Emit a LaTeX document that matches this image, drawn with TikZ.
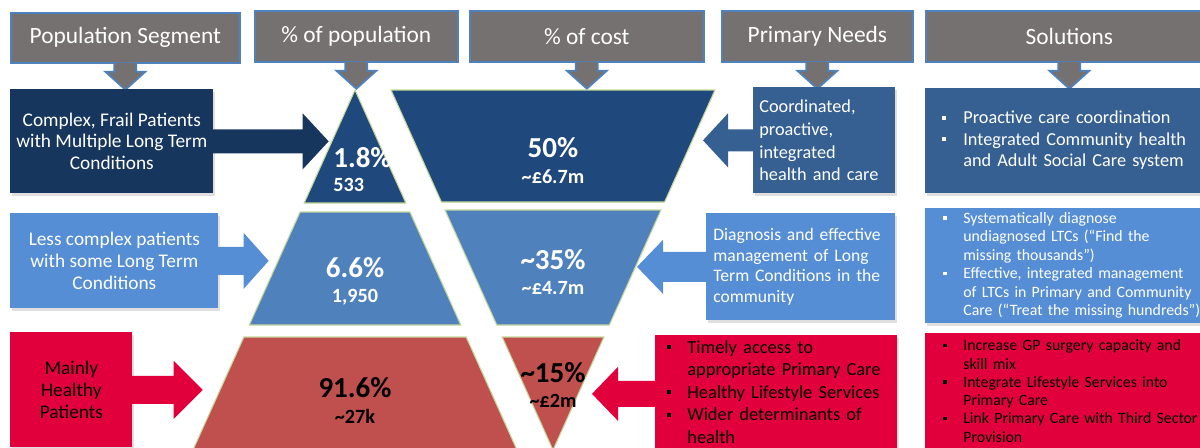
\documentclass[tikz,border=0pt]{standalone}
\usepackage{fontspec}
\setmainfont{Carlito}
\usepackage{tikz}
\usetikzlibrary{shapes.geometric, arrows, positioning, shadows}

\definecolor{hdrgrey}{HTML}{767171}
\definecolor{hdrline}{HTML}{4F81BD}
\definecolor{navydark}{HTML}{17365D}
\definecolor{navymid}{HTML}{1F497D}
\definecolor{bluemid}{HTML}{366092}
\definecolor{bluelight}{HTML}{558ED5}
\definecolor{bluetrap}{HTML}{4F81BD}
\definecolor{crimson}{HTML}{E1003C}
\definecolor{redtrap}{HTML}{C0504D}
\definecolor{trapline}{HTML}{C4D79B}

% bullet line: small square, then the lines of the item
\newcommand{\bul}[2][0.4cm]{\noindent\makebox[#1][l]{\rule[0.22em]{0.22em}{0.22em}}\begin{tabular}[t]{@{}l@{}}#2\end{tabular}\par}

\tikzset{
  header/.style={rectangle, fill=hdrgrey, draw=hdrline, line width=1pt, text=white, inner sep=0pt, anchor=north west, font=\fontsize{13.3}{15}\selectfont},
  hdrarrow/.style={fill=hdrgrey, draw=hdrline, line width=1pt},
  segment/.style={rectangle, inner sep=0pt, anchor=north west, align=center, font=\fontsize{11}{12.5}\selectfont, drop shadow={opacity=0.25, shadow xshift=1pt, shadow yshift=-1.5pt}},
  need/.style={rectangle, inner ysep=0pt, anchor=north west, drop shadow={opacity=0.25, shadow xshift=1pt, shadow yshift=-1.5pt}},
  band/.style={draw=trapline, line width=0.6pt},
  bignum/.style={inner sep=0pt, font=\fontsize{16.5}{18}\selectfont\bfseries},
  smallnum/.style={inner sep=0pt, font=\fontsize{11.5}{13}\selectfont\bfseries}
}

\begin{document}
\begin{tikzpicture}[x=0.02cm, y=-0.02cm]
\useasboundingbox (0,0) rectangle (1200,447);

% Column headers
\node[header, minimum width=4.58cm, minimum height=1cm] (hseg) at (10,12) {Population Segment};
\node[header, minimum width=4.06cm, minimum height=1.02cm] (hpop) at (254,10) {\% of population};
\node[header, minimum width=4.68cm, minimum height=1.02cm] (hcost) at (469,10) {\% of cost};
\node[header, minimum width=3.82cm, minimum height=1.02cm] (hneed) at (721,10) {Primary Needs};
\node[header, minimum width=5.74cm, minimum height=1.02cm] (hsol) at (925,10) {Solutions};
\foreach \h in {hseg,hpop,hcost,hneed,hsol}
  \filldraw[hdrarrow] (\h.south) ++(-11,-1) -- ++(0,9) -- ++(-9,0) -- ++(20,18) -- ++(20,-18) -- ++(-9,0) -- ++(0,-9);

% Population segments
\node[segment, fill=navydark, text=white, minimum width=4.06cm, minimum height=2.08cm] (seg1) at (10,89) {Complex, Frail Patients\\with Multiple Long Term\\Conditions};
\node[segment, fill=bluelight, text=white, minimum width=4.16cm, minimum height=1.9cm] (seg2) at (10,213) {Less complex patients\\with some Long Term\\Conditions};
\node[segment, fill=crimson, text=black, minimum width=2.44cm, minimum height=2.3cm] (seg3) at (10,332) {Mainly\\Healthy\\Patients};

\fill[navydark] (seg1.east) ++(-1,-12) -- ++(90,0) -- ++(0,-16) -- ++(26,28) -- ++(-26,28) -- ++(0,-16) -- ++(-90,0) -- cycle;
\fill[bluelight] (seg2.east) ++(-1,-14) -- ++(26,0) -- ++(0,-14) -- ++(25,28) -- ++(-25,28) -- ++(0,-14) -- ++(-26,0) -- cycle;
\fill[crimson] (seg3.east) ++(-1,-14) -- ++(42,0) -- ++(0,-15) -- ++(29,29) -- ++(-29,29) -- ++(0,-15) -- ++(-42,0) -- cycle;

% Population pyramid
\filldraw[band, fill=navymid] (355,90) -- (405.9,203) -- (304.2,203) -- cycle;
\filldraw[band, fill=bluetrap] (300.1,212) -- (409.9,212) -- (460.8,325) -- (249.3,325) -- cycle;
\filldraw[band, fill=redtrap] (243.9,337) -- (466.2,337) -- (517,450) -- (193,450) -- cycle;

\node[bignum, text=white, anchor=west] (pop1) at (333,158) {1.8\%};
\node[smallnum, text=white, anchor=west] (num1) at (333,185) {533};
\node[bignum, text=white] (pop2) at (355,268) {6.6\%};
\node[smallnum, text=white] (num2) at (355,297) {1,950};
\node[bignum, text=black] (pop3) at (355,388) {91.6\%};
\node[smallnum, text=black] (num3) at (355,416) {\textasciitilde27k};

% Cost pyramid (upside down)
\filldraw[band, fill=navymid] (391,90) -- (715,90) -- (664.6,202) -- (441.4,202) -- cycle;
\filldraw[band, fill=bluetrap] (445,210) -- (661,210) -- (609.3,325) -- (496.8,325) -- cycle;
\filldraw[band, fill=redtrap] (502.2,337) -- (603.9,337) -- (553,450) -- cycle;

\node[bignum, text=white] (cost1) at (553,148) {50\%};
\node[smallnum, text=white] (gbp1) at (553,177) {\textasciitilde£6.7m};
\node[bignum, text=white] (cost2) at (553,260) {\textasciitilde35\%};
\node[smallnum, text=white] (gbp2) at (553,288) {\textasciitilde£4.7m};
\node[bignum, text=black] (cost3) at (553,373) {\textasciitilde15\%};
\node[smallnum, text=black] (gbp3) at (553,401) {\textasciitilde£2m};

% Primary needs
\node[need, fill=bluemid, text=white, align=left, inner xsep=0.12cm, text width=2.6cm, minimum height=2.12cm, font=\fontsize{10.4}{13}\selectfont] (need1) at (753,87) {Coordinated,\\proactive,\\integrated\\health and care};
\node[need, fill=bluelight, text=white, align=left, inner xsep=0.14cm, text width=3.5cm, minimum height=2.14cm, font=\fontsize{10}{11.7}\selectfont] (need2) at (706,213) {Diagnosis and effective\\management of Long\\Term Conditions in the\\community};
\node[need, fill=crimson, text=black, inner xsep=0.24cm, text width=4.36cm, minimum height=2.34cm, font=\fontsize{10.5}{12.75}\selectfont] (need3) at (655,335) {\lineskip=0pt
  \bul{Timely access to\\appropriate Primary Care}
  \bul{Healthy Lifestyle Services}
  \bul{Wider determinants of\\health}};

\fill[bluemid] (need1.west) ++(1,-11) -- ++(-26,0) -- ++(0,-16) -- ++(-25,27) -- ++(25,27) -- ++(0,-16) -- ++(26,0) -- cycle;
\fill[bluelight] (need2.west) ++(1,-15) -- ++(-44,0) -- ++(0,-12) -- ++(-26,27) -- ++(26,27) -- ++(0,-12) -- ++(44,0) -- cycle;
\fill[crimson] (need3.west) ++(1,-13) -- ++(-38,0) -- ++(0,-14) -- ++(-26,27) -- ++(26,27) -- ++(0,-14) -- ++(38,0) -- cycle;

% Solutions
\node[need, fill=bluemid, text=white, inner xsep=0.34cm, text width=5.02cm, minimum height=2.1cm, font=\fontsize{10.4}{12.2}\selectfont] (sol1) at (925,88) {\lineskip=0pt
  \bul[0.42cm]{Proactive care coordination}
  \bul[0.42cm]{Integrated Community health\\and Adult Social Care system}};
\node[need, fill=bluelight, text=white, inner xsep=0.36cm, text width=4.98cm, minimum height=2.3cm, font=\fontsize{9}{10.55}\selectfont] (sol2) at (925,208) {\lineskip=0pt
  \bul{Systematically diagnose\\undiagnosed LTCs (“Find the\\missing thousands”)}
  \bul{Effective, integrated management\\of LTCs in Primary and Community\\Care (“Treat the missing hundreds”)}};
\node[need, fill=crimson, text=black, inner xsep=0.36cm, text width=4.98cm, minimum height=2.38cm, font=\fontsize{9}{10.4}\selectfont] (sol3) at (925,333) {\lineskip=0pt
  \bul{Increase GP surgery capacity and\\skill mix}
  \bul{Integrate Lifestyle Services into\\Primary Care}
  \bul{Link Primary Care with Third Sector\\Provision}};
\end{tikzpicture}
\end{document}
